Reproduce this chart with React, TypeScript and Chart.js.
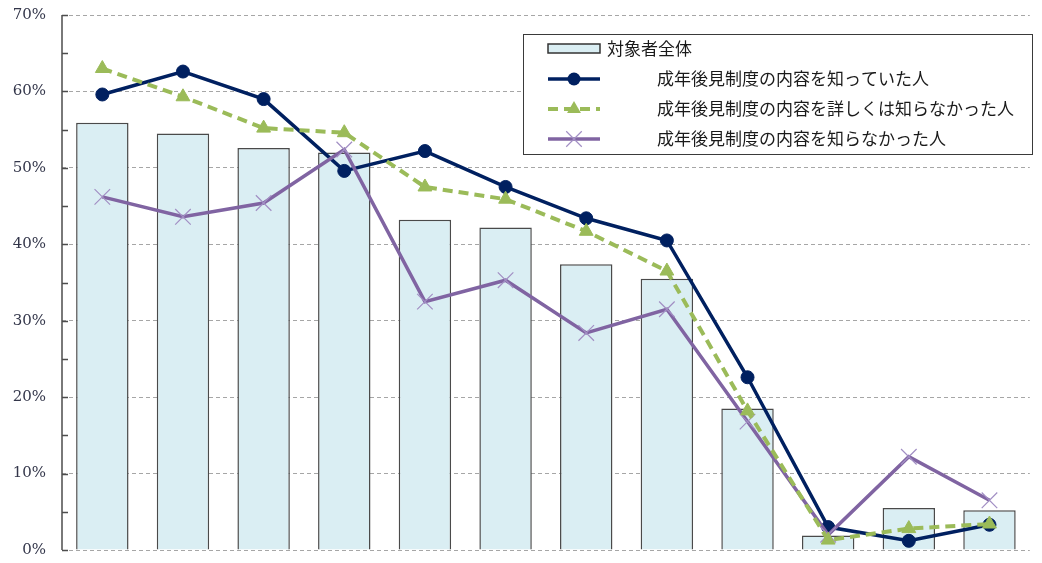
import React, { useEffect, useRef } from "react";
import { Chart, registerables } from "chart.js";

Chart.register(...registerables);

// Twelve items; the axis carries no category names
const categories = ["1", "2", "3", "4", "5", "6", "7", "8", "9", "10", "11", "12"];

const seriesNames = [
  "対象者全体",
  "成年後見制度の内容を知っていた人",
  "成年後見制度の内容を詳しくは知らなかった人",
  "成年後見制度の内容を知らなかった人",
];

// Percentages
const allRespondents = [55.9, 54.5, 52.6, 52.0, 43.2, 42.2, 37.4, 35.5, 18.5, 1.9, 5.5, 5.2];
const knewContent = [59.6, 62.6, 59.0, 49.6, 52.2, 47.5, 43.4, 40.5, 22.6, 3.0, 1.2, 3.3];
const knewPartly = [63.0, 59.3, 55.2, 54.6, 47.5, 45.9, 41.7, 36.5, 18.2, 1.3, 2.8, 3.4];
const didNotKnow = [46.2, 43.6, 45.4, 52.4, 32.5, 35.3, 28.4, 31.5, 16.8, 2.0, 12.2, 6.5];

const yTicks = [0, 10, 20, 30, 40, 50, 60, 70];

const BAR_FILL = "#DAEEF3";
const BAR_EDGE = "#4A4A4A";
const NAVY = "#002060";
const GREEN = "#9BBB59";
const PURPLE = "#8064A2";
const PURPLE_MARK = "#A28FC4";

// Solid left axis with inward tick marks every 5%
const axisPlugin = {
  id: "innerAxis",
  afterDatasetsDraw(chart: any) {
    const { ctx, chartArea } = chart;
    const y = chart.scales.y;
    ctx.save();
    ctx.strokeStyle = "#4D4D4D";
    ctx.lineWidth = 1.5;
    ctx.beginPath();
    ctx.moveTo(chartArea.left, chartArea.top);
    ctx.lineTo(chartArea.left, chartArea.bottom);
    for (let v = 0; v <= 70; v += 5) {
      const py = Math.round(y.getPixelForValue(v)) + 0.5;
      ctx.moveTo(chartArea.left, py);
      ctx.lineTo(chartArea.left + 6, py);
    }
    ctx.stroke();
    ctx.restore();
  },
};

function drawMarker(ctx: CanvasRenderingContext2D, d: any, x: number, y: number) {
  ctx.save();
  ctx.fillStyle = d.pointBackgroundColor;
  ctx.strokeStyle = d.pointBorderColor;
  ctx.lineWidth = d.pointBorderWidth;
  const r = d.pointRadius;
  ctx.beginPath();
  if (d.pointStyle === "circle") {
    ctx.arc(x, y, r, 0, Math.PI * 2);
    ctx.fill();
  } else if (d.pointStyle === "triangle") {
    ctx.moveTo(x, y - r);
    ctx.lineTo(x + (r * Math.sqrt(3)) / 2, y + r / 2);
    ctx.lineTo(x - (r * Math.sqrt(3)) / 2, y + r / 2);
    ctx.closePath();
    ctx.fill();
  } else {
    const o = r * Math.SQRT1_2;
    ctx.moveTo(x - o, y - o);
    ctx.lineTo(x + o, y + o);
    ctx.moveTo(x + o, y - o);
    ctx.lineTo(x - o, y + o);
    ctx.stroke();
  }
  ctx.restore();
}

// Boxed legend in the upper right
const legendPlugin = {
  id: "boxLegend",
  afterDraw(chart: any) {
    const { ctx } = chart;
    const ds = chart.data.datasets;
    const bx = 523, by = 34, bw = 509, bh = 120;
    ctx.save();
    ctx.fillStyle = "#FFFFFF";
    ctx.fillRect(bx, by, bw, bh);
    ctx.strokeStyle = "#3A3A3A";
    ctx.lineWidth = 1;
    ctx.strokeRect(bx + 0.5, by + 0.5, bw, bh);

    ctx.font = '17px "Noto Sans CJK JP"';
    ctx.textBaseline = "middle";
    ctx.textAlign = "left";

    // bar swatch
    ctx.fillStyle = BAR_FILL;
    ctx.fillRect(548, 44, 52, 9);
    ctx.strokeStyle = "#333";
    ctx.lineWidth = 1.5;
    ctx.strokeRect(548, 44, 52, 9);
    ctx.fillStyle = "#1A1A1A";
    ctx.fillText(ds[0].label, 607, 49);

    const rows = [79, 109, 139];
    for (let i = 1; i <= 3; i++) {
      const d = ds[i];
      const ry = rows[i - 1];
      ctx.strokeStyle = d.borderColor;
      ctx.lineWidth = d.borderWidth;
      ctx.setLineDash(d.borderDash || []);
      ctx.beginPath();
      ctx.moveTo(548, ry);
      ctx.lineTo(600, ry);
      ctx.stroke();
      ctx.setLineDash([]);
      drawMarker(ctx, d, 574, ry);
      ctx.fillStyle = "#1A1A1A";
      ctx.fillText(d.label, 657, ry);
    }
    ctx.restore();
  },
};

export default function App() {
  const ref = useRef<HTMLCanvasElement>(null);

  useEffect(() => {
    if (!ref.current) return;
    const chart = new Chart(ref.current, {
      type: "bar",
      data: {
        labels: categories,
        datasets: [
          {
            type: "bar",
            label: seriesNames[0],
            data: allRespondents,
            backgroundColor: BAR_FILL,
            borderColor: BAR_EDGE,
            borderWidth: 1.5,
            barPercentage: 0.65,
            categoryPercentage: 1,
            order: 10,
          },
          {
            type: "line",
            label: seriesNames[1],
            data: knewContent,
            borderColor: NAVY,
            borderWidth: 3.5,
            pointStyle: "circle",
            pointRadius: 6.5,
            pointBackgroundColor: NAVY,
            pointBorderColor: NAVY,
            pointBorderWidth: 1,
            tension: 0,
            order: 3,
          },
          {
            type: "line",
            label: seriesNames[2],
            data: knewPartly,
            borderColor: GREEN,
            borderWidth: 4,
            borderDash: [10, 6],
            pointStyle: "triangle",
            pointRadius: 8,
            pointBackgroundColor: GREEN,
            pointBorderColor: GREEN,
            pointBorderWidth: 1,
            tension: 0,
            order: 1,
          },
          {
            type: "line",
            label: seriesNames[3],
            data: didNotKnow,
            borderColor: PURPLE,
            borderWidth: 3.5,
            pointStyle: "crossRot",
            pointRadius: 11,
            pointBackgroundColor: PURPLE_MARK,
            pointBorderColor: PURPLE_MARK,
            pointBorderWidth: 1.2,
            tension: 0,
            order: 2,
          },
        ] as any,
      },
      options: {
        animation: false,
        responsive: false,
        maintainAspectRatio: false,
        layout: { padding: { left: 0, right: 7, top: 15, bottom: 13 } },
        plugins: {
          legend: { display: false },
          tooltip: { enabled: false },
        },
        scales: {
          x: { display: false, offset: true },
          y: {
            min: 0,
            max: 70,
            afterFit: (s: any) => {
              s.width = 62;
            },
            afterBuildTicks: (s: any) => {
              s.ticks = yTicks.map((v) => ({ value: v }));
            },
            // dashed horizontal grid
            border: { display: false, dash: [4, 3] },
            grid: {
              color: "#A6A6A6",
              lineWidth: 1,
              drawTicks: true,
              tickLength: 16,
              tickColor: "rgba(0,0,0,0)",
            },
            ticks: {
              padding: 0,
              color: "#33364A",
              font: { family: '"DejaVu Serif"', size: 15 },
              callback: (v: any) => `${v}%`,
            },
          },
        },
      } as any,
      plugins: [axisPlugin, legendPlugin],
    });
    return () => chart.destroy();
  }, []);

  return (
    <div style={{ position: "fixed", left: 0, top: 0, width: 1042, height: 563, background: "#fff" }}>
      <canvas ref={ref} width={1042} height={563} style={{ width: 1042, height: 563 }} />
    </div>
  );
}
